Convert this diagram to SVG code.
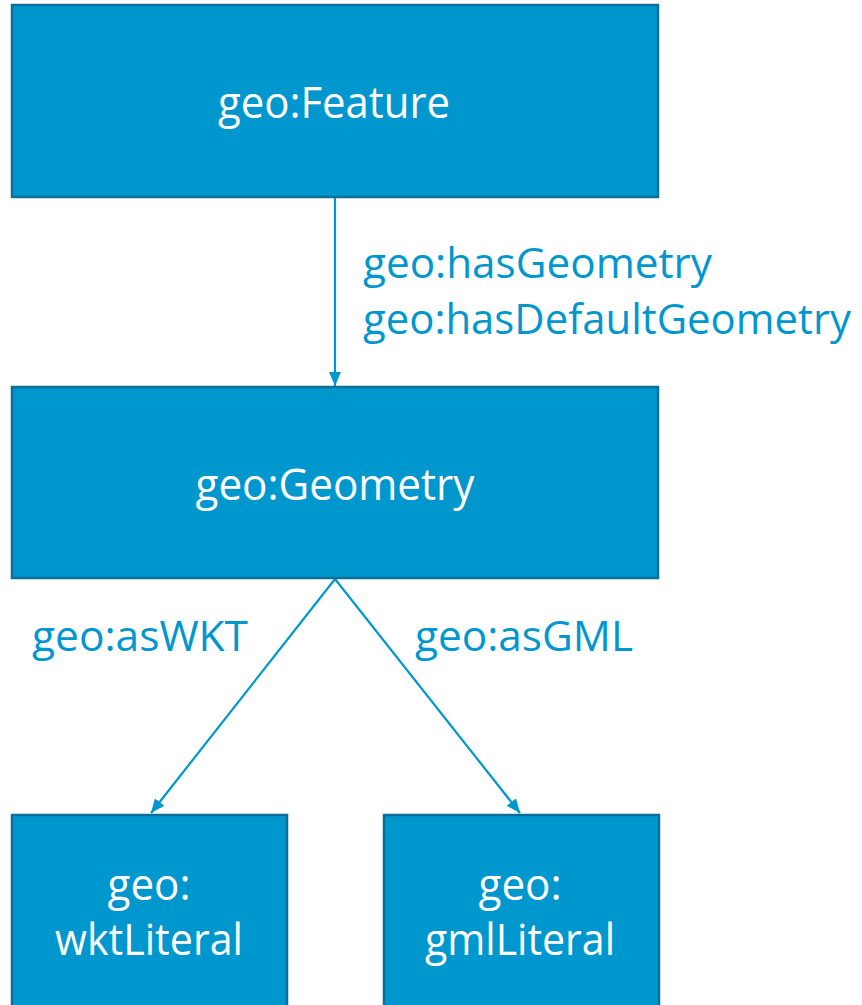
<svg xmlns="http://www.w3.org/2000/svg" width="862" height="1005" viewBox="0 0 862 1005">
<style>
.box{fill:#0097CF;stroke:#0B6F97;stroke-width:2.5}
.nt{font-family:"Open Sans","Liberation Sans",sans-serif;font-size:43px;fill:#FFFFFF;text-anchor:middle}
.lt{font-family:"Open Sans","Liberation Sans",sans-serif;font-size:42px;fill:#0097CF}
.edge{stroke:#0097CF;stroke-width:2.2;fill:none}
</style>
<defs>
<marker id="ah" viewBox="0 0 14 12" refX="14" refY="6" markerWidth="14" markerHeight="12" markerUnits="userSpaceOnUse" orient="auto">
<path d="M0,0 L14,6 L0,12 Z" fill="#0097CF"/>
</marker>
</defs>
<rect width="862" height="1005" fill="#FFFFFF"/>
<g id="connectors">
<line class="edge" x1="335" y1="198" x2="335" y2="386" marker-end="url(#ah)"/>
<line class="edge" x1="335" y1="579" x2="151" y2="813" marker-end="url(#ah)"/>
<line class="edge" x1="335" y1="579" x2="520" y2="813" marker-end="url(#ah)"/>
<text class="lt" x="363" y="278" textLength="349" lengthAdjust="spacingAndGlyphs">geo:hasGeometry</text>
<text class="lt" x="363" y="334" textLength="488" lengthAdjust="spacingAndGlyphs">geo:hasDefaultGeometry</text>
<text class="lt" x="32" y="651" textLength="216" lengthAdjust="spacingAndGlyphs">geo:asWKT</text>
<text class="lt" x="415" y="651" textLength="218" lengthAdjust="spacingAndGlyphs">geo:asGML</text>
</g>
<g id="feature">
<rect class="box" x="12" y="5" width="646" height="192"/>
<text class="nt" x="334" y="118" textLength="232" lengthAdjust="spacingAndGlyphs">geo:Feature</text>
</g>
<g id="geometry">
<rect class="box" x="12" y="387" width="646" height="191"/>
<text class="nt" x="335" y="500" textLength="279" lengthAdjust="spacingAndGlyphs">geo:Geometry</text>
</g>
<g id="wktLiteral">
<rect class="box" x="12" y="815" width="275" height="200"/>
<text class="nt" x="149" y="900" textLength="83" lengthAdjust="spacingAndGlyphs">geo:</text>
<text class="nt" x="149" y="955" textLength="188" lengthAdjust="spacingAndGlyphs">wktLiteral</text>
</g>
<g id="gmlLiteral">
<rect class="box" x="384" y="815" width="275" height="200"/>
<text class="nt" x="520" y="900" textLength="83" lengthAdjust="spacingAndGlyphs">geo:</text>
<text class="nt" x="520" y="955" textLength="190" lengthAdjust="spacingAndGlyphs">gmlLiteral</text>
</g>
</svg>
